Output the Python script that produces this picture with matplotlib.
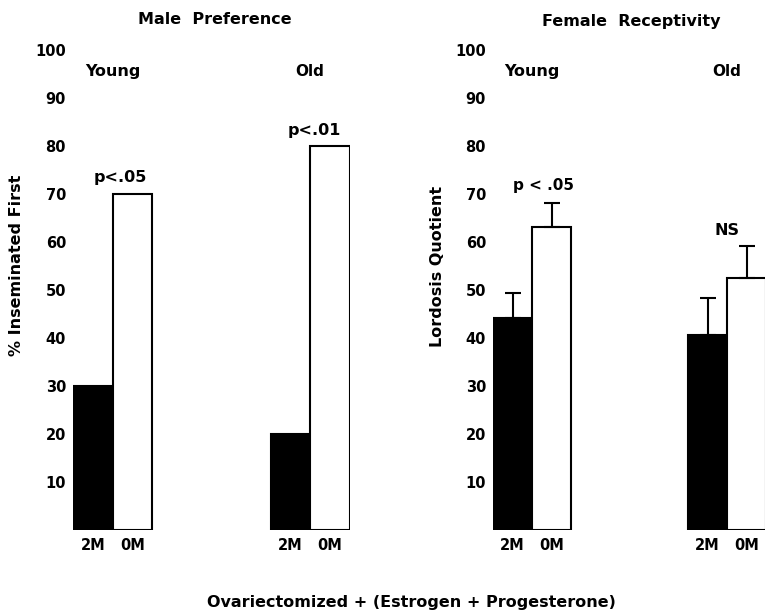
import numpy as np
import matplotlib
matplotlib.use('Agg')
import matplotlib.pyplot as plt

plt.rcParams['font.family'] = ['DejaVu Sans']
plt.rcParams['font.weight'] = 'bold'

# data
treat = ['2M', '0M']
ages = ['Young', 'Old']
pref_young = [30, 70]
pref_old = [20, 80]
pref_p = ['p<.05', 'p<.01']

lq_young = [44.2, 63.1]
lq_young_err = [5.2, 5.0]
lq_old = [40.6, 52.5]
lq_old_err = [7.7, 6.7]
lq_p = ['p < .05', 'NS']

yticks = [10, 20, 30, 40, 50, 60, 70, 80, 90, 100]

W, H = 765, 615
fig = plt.figure(figsize=(W / 100, H / 100), dpi=100)

def px_axes(x0, x1):
    # axes from pixel x0..x1, y from 0 (y=530) to 100 (y=50)
    return fig.add_axes([x0 / W, (H - 530) / H, (x1 - x0) / W, 480 / H])

def style(ax):
    ax.set_xlim(0, 7)
    ax.set_ylim(0, 100)
    for s in ax.spines.values():
        s.set_visible(False)
    ax.set_yticks(yticks)
    ax.set_yticklabels([str(t) for t in yticks], fontsize=10.5, fontweight='bold')
    ax.tick_params(axis='y', length=0, pad=5)
    ax.set_xticks([])
    ax.patch.set_alpha(0)

pos = {'Young': [0.5, 1.5], 'Old': [5.5, 6.5]}

# ---- Male preference
ax1 = px_axes(73, 349.5)
style(ax1)
for age, vals in zip(ages, [pref_young, pref_old]):
    ax1.bar(pos[age], vals, width=1.0, color=['black', 'white'],
            edgecolor='black', linewidth=1.5)
    for x, t in zip(pos[age], treat):
        ax1.text(x, -1.6, t, ha='center', va='top', fontsize=10.5, fontweight='bold')
ax1.text(1.0, 95.5, 'Young', ha='center', va='center', fontsize=11.5, fontweight='bold')
ax1.text(6.0, 95.5, 'Old', ha='center', va='center', fontsize=11, fontweight='bold')
ax1.text(1.2, 73.5, pref_p[0], ha='center', va='center', fontsize=11.5, fontweight='bold')
ax1.text(6.1, 83.2, pref_p[1], ha='center', va='center', fontsize=11.5, fontweight='bold')
ax1.text(3.6, 106.3, 'Male  Preference', ha='center', va='center', fontsize=11.5,
         fontweight='bold', clip_on=False)

# ---- Female receptivity
ax2 = px_axes(493, 766)
style(ax2)
for age, vals, errs in zip(ages, [lq_young, lq_old], [lq_young_err, lq_old_err]):
    ax2.bar(pos[age], vals, width=1.0, color=['black', 'white'],
            edgecolor='black', linewidth=1.5)
    ax2.errorbar(pos[age], vals, yerr=[np.zeros(2), errs], fmt='none',
                 ecolor='black', elinewidth=1.5, capsize=6, capthick=1.5)
    for x, t in zip(pos[age], treat):
        ax2.text(x, -1.6, t, ha='center', va='top', fontsize=10.5, fontweight='bold',
                 clip_on=False)
ax2.text(1.0, 95.5, 'Young', ha='center', va='center', fontsize=11.5, fontweight='bold')
ax2.text(6.0, 95.5, 'Old', ha='center', va='center', fontsize=11, fontweight='bold')
ax2.text(1.3, 71.8, lq_p[0], ha='center', va='center', fontsize=11, fontweight='bold')
ax2.text(6.0, 62.4, lq_p[1], ha='center', va='center', fontsize=11.5, fontweight='bold')
ax2.text(3.55, 106.0, 'Female  Receptivity', ha='center', va='center', fontsize=11.5,
         fontweight='bold', clip_on=False)

# axis labels
fig.text(17 / W, 1 - 265 / H, '% Inseminated First', rotation=90, ha='center',
         va='center', fontsize=11.5, fontweight='bold')
fig.text(437 / W, 1 - 266 / H, 'Lordosis Quotient', rotation=90, ha='center',
         va='center', fontsize=11.5, fontweight='bold')
fig.text(411 / W, 1 - 602 / H, 'Ovariectomized + (Estrogen + Progesterone)',
         ha='center', va='center', fontsize=11.5, fontweight='bold')

fig.savefig('out.png', dpi=100, facecolor='white')
